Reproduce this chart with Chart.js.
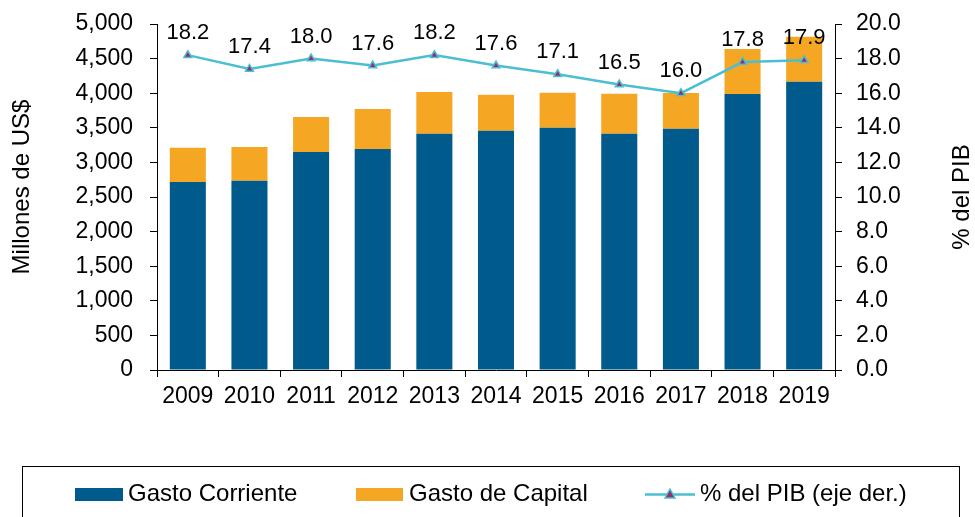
<!DOCTYPE html>
<html>
<head>
<meta charset="utf-8">
<script src="https://cdn.jsdelivr.net/npm/chart.js@4/dist/chart.umd.min.js"></script>
<style>
  html, body { margin: 0; padding: 0; background: #fff; }
  #wrap { width: 975px; height: 517px; }
</style>
</head>
<body>
<div id="wrap"><canvas id="chart" width="975" height="517"></canvas></div>
<script>
const years = ['2009', '2010', '2011', '2012', '2013', '2014', '2015', '2016', '2017', '2018', '2019'];
const gastoCorriente = [2717, 2736, 3150, 3194, 3415, 3459, 3502, 3415, 3488, 3988, 4166];
const gastoCapital = [495, 486, 506, 578, 602, 520, 506, 578, 515, 651, 651];
const pctPib = [18.2, 17.4, 18.0, 17.6, 18.2, 17.6, 17.1, 16.5, 16.0, 17.8, 17.9];
const leftTicks = [0, 500, 1000, 1500, 2000, 2500, 3000, 3500, 4000, 4500, 5000];
const rightTicks = [0, 2, 4, 6, 8, 10, 12, 14, 16, 18, 20];

const BLUE = '#005A8C';
const ORANGE = '#F5A623';
const CYAN = '#4BBFD1';
const PURPLE = '#962D6E';
const FONT = '"Liberation Sans", Arial, sans-serif';

const extras = {
    id: 'extras',
    afterDatasetsDraw(chart) {
        const ctx = chart.ctx;
        const meta = chart.getDatasetMeta(2);
        ctx.save();
        ctx.fillStyle = '#000';
        ctx.font = '22px ' + FONT;
        ctx.textAlign = 'center';
        ctx.textBaseline = 'alphabetic';
        meta.data.forEach((pt, i) => {
            ctx.fillText(pctPib[i].toFixed(1), pt.x, pt.y - 16);
        });
        ctx.restore();
    },
    afterDraw(chart) {
        const ctx = chart.ctx;
        ctx.save();
        ctx.fillStyle = '#000';
        ctx.font = '24px ' + FONT;
        ctx.textAlign = 'center';
        ctx.textBaseline = 'middle';
        ctx.translate(22, 187);
        ctx.rotate(-Math.PI / 2);
        ctx.fillText('Millones de US$', 0, 0);
        ctx.restore();

        ctx.save();
        ctx.fillStyle = '#000';
        ctx.font = '24px ' + FONT;
        ctx.textAlign = 'center';
        ctx.textBaseline = 'middle';
        ctx.translate(962, 197);
        ctx.rotate(-Math.PI / 2);
        ctx.fillText('% del PIB', 0, 0);
        ctx.restore();

        // legend
        ctx.save();
        ctx.strokeStyle = '#000';
        ctx.lineWidth = 1;
        ctx.strokeRect(22.5, 466.5, 937, 60);
        ctx.font = '24px ' + FONT;
        ctx.textBaseline = 'middle';
        ctx.textAlign = 'left';
        ctx.fillStyle = BLUE;
        ctx.fillRect(75, 488, 48, 13);
        ctx.fillStyle = '#000';
        ctx.fillText('Gasto Corriente', 128, 494);
        ctx.fillStyle = ORANGE;
        ctx.fillRect(356, 488, 47, 13);
        ctx.fillStyle = '#000';
        ctx.fillText('Gasto de Capital', 409, 494);
        ctx.strokeStyle = CYAN;
        ctx.lineWidth = 2.5;
        ctx.beginPath();
        ctx.moveTo(645, 494.5);
        ctx.lineTo(695, 494.5);
        ctx.stroke();
        ctx.beginPath();
        ctx.moveTo(670, 489);
        ctx.lineTo(675, 498);
        ctx.lineTo(665, 498);
        ctx.closePath();
        ctx.fillStyle = PURPLE;
        ctx.fill();
        ctx.lineWidth = 1.5;
        ctx.stroke();
        ctx.fillStyle = '#000';
        ctx.fillText('% del PIB (eje der.)', 700, 494);
        ctx.restore();
    }
};

function fixVertical(width) {
    return s => {
        s.width = width;
        s.paddingTop = 0;
        s.paddingBottom = 0;
    };
}

new Chart(document.getElementById('chart'), {
    type: 'bar',
    data: {
        labels: years,
        datasets: [
            {
                label: 'Gasto Corriente',
                data: gastoCorriente,
                backgroundColor: BLUE,
                stack: 'gasto',
                yAxisID: 'y',
                order: 1,
                barPercentage: 0.585,
                categoryPercentage: 1
            },
            {
                label: 'Gasto de Capital',
                data: gastoCapital,
                backgroundColor: ORANGE,
                stack: 'gasto',
                yAxisID: 'y',
                order: 1,
                barPercentage: 0.585,
                categoryPercentage: 1
            },
            {
                type: 'line',
                label: '% del PIB (eje der.)',
                data: pctPib,
                yAxisID: 'y1',
                borderColor: CYAN,
                borderWidth: 2.5,
                pointStyle: 'triangle',
                pointRadius: 4.5,
                pointBackgroundColor: PURPLE,
                pointBorderColor: CYAN,
                pointBorderWidth: 1.5,
                tension: 0,
                order: 0
            }
        ]
    },
    options: {
        responsive: false,
        devicePixelRatio: 1,
        animation: false,
        layout: { padding: { top: 24, bottom: 107, left: 0, right: 0 } },
        plugins: {
            legend: { display: false },
            tooltip: { enabled: false }
        },
        scales: {
            x: {
                stacked: true,
                grid: { drawOnChartArea: false, tickLength: 7, color: '#000', offset: true },
                border: { color: '#000', width: 1 },
                ticks: { color: '#000', font: { size: 23, family: FONT }, padding: 6, maxRotation: 0, autoSkip: false },
                afterFit: s => { s.height = 40; s.paddingLeft = 0; s.paddingRight = 0; }
            },
            y: {
                position: 'left',
                stacked: true,
                min: 0,
                max: 5000,
                afterBuildTicks: s => { s.ticks = leftTicks.map(v => ({ value: v })); },
                grid: { drawOnChartArea: false, tickLength: 7, color: '#000' },
                border: { color: '#000', width: 1 },
                ticks: {
                    color: '#000',
                    font: { size: 23, family: FONT },
                    padding: 17,
                    callback: v => v.toLocaleString('en-US')
                },
                afterFit: fixVertical(157)
            },
            y1: {
                position: 'right',
                min: 0,
                max: 20,
                afterBuildTicks: s => { s.ticks = rightTicks.map(v => ({ value: v })); },
                grid: { drawOnChartArea: false, tickLength: 7, color: '#000' },
                border: { color: '#000', width: 1 },
                ticks: {
                    color: '#000',
                    font: { size: 23, family: FONT },
                    padding: 14,
                    callback: v => Number(v).toFixed(1)
                },
                afterFit: fixVertical(140)
            }
        }
    },
    plugins: [extras]
});
</script>
</body>
</html>
